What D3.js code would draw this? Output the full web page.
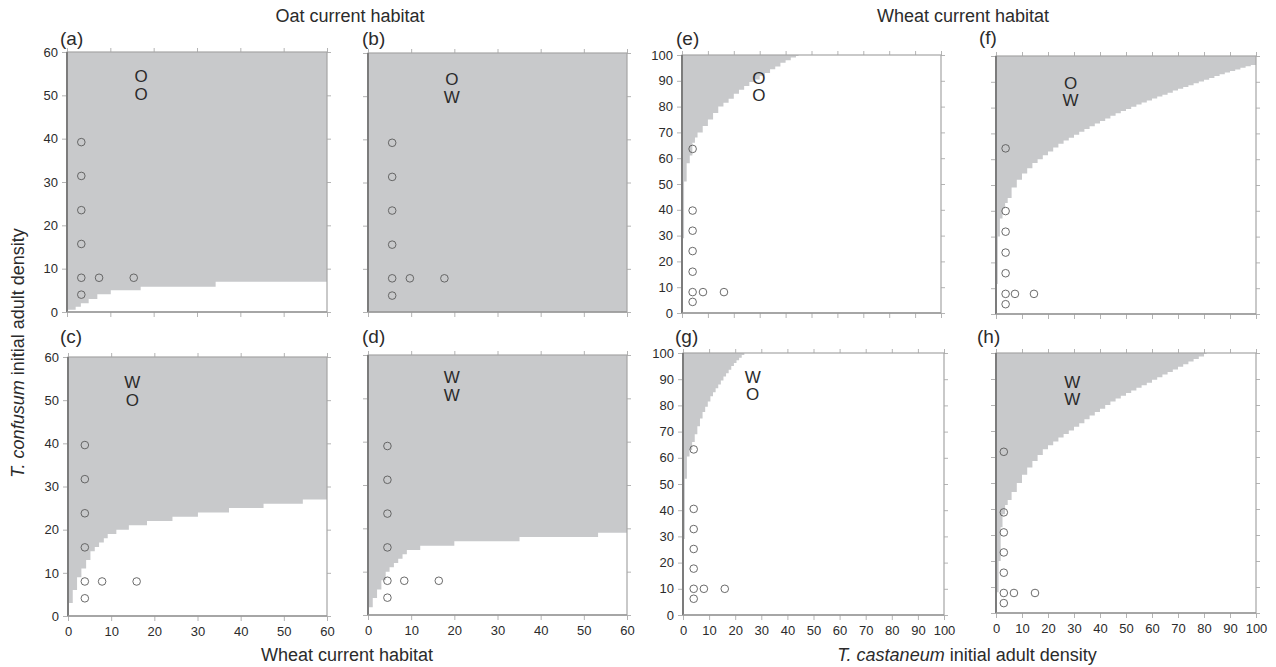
<!DOCTYPE html>
<html>
<head>
<meta charset="utf-8">
<script src="https://cdn.jsdelivr.net/npm/d3@7"></script>
<style>
  html, body { margin: 0; padding: 0; background: #fff; }
  svg { display: block; font-family: "Liberation Sans", Arial, sans-serif; }
</style>
</head>
<body>
<svg id="chart" width="1276" height="667"></svg>
<script>
// ---------------- data ----------------
const ticks60 = [0, 10, 20, 30, 40, 50, 60];
const ticks100 = [0, 10, 20, 30, 40, 50, 60, 70, 80, 90, 100];
const panelNames = ["(a)", "(b)", "(c)", "(d)", "(e)", "(f)", "(g)", "(h)"];

// step boundary of the grey region: [x, y] — grey above y from x until next x
const boundary_a = [[0,0.5],[2,1.2],[3.2,2],[5,3],[7,4.1],[10.1,5],[17,5.8],[34.3,7],[60,7]];
const boundary_b = [[0,0],[60,0]];
const boundary_c = [[0,3],[1.1,6],[2.1,9],[3.1,11],[4.2,13],[5.2,15],[6.2,16],[7.2,17],[8.3,18],[9.2,19],[11.2,20],[14.1,21],[18.3,22],[24.2,23],[30.1,24],[37.3,25],[45.3,26],[54.4,27],[60,27]];
const boundary_d = [[0,1.8],[1.1,3.9],[2.1,5.9],[3.1,8],[4.1,10],[5,11],[6,12],[7,13],[8,14],[9,15],[12.1,16],[20,17],[35.1,18],[53.3,19],[60,19]];
const boundary_e = [[0,29],[0.8,51],[1.8,58],[3,61],[4,66],[5,68],[6,70],[8,72.5],[10,75],[12,77.5],[14,80],[16,81.5],[18,83],[20,85],[22,86.5],[24,88],[26,89.5],[28,90.5],[30,92],[32,93],[34,94.5],[36,95.5],[38,97],[40,98],[42,99],[44,99.6],[45,100]];
const boundary_f = [[0,11.6],[0.7,30],[1.5,37],[2.5,41],[3.5,43],[4.5,45],[6,49],[8,52],[10,54.5],[12,56.5],[14,58.5],[16,60],[18,61.5],[20,63],[22,64.5],[24,66],[26,67.2],[28,68.3],[30,69.5],[32,70.6],[34,71.7],[36,72.8],[38,73.8],[40,74.8],[42,75.8],[44,76.8],[46,77.8],[48,78.7],[50,79.5],[52,80.3],[54,81.2],[56,82],[58,82.8],[60,83.5],[62,84.3],[64,85],[66,85.8],[68,86.6],[70,87.3],[72,88],[74,88.7],[76,89.4],[78,90.1],[80,90.8],[82,91.5],[84,92.2],[86,92.9],[88,93.6],[90,94.2],[92,94.8],[94,95.4],[96,96],[98,96.5],[100,97]];
const boundary_g = [[0,29],[0.7,52],[1.5,60.5],[2.5,63],[3.5,66],[4.5,69],[5.5,72],[6.5,75],[7.5,77.5],[8.5,79.5],[9.5,81.5],[10.5,83.5],[11.5,85],[12.5,86.5],[13.5,88],[14.5,89.5],[15.5,91],[16.5,92.3],[17.5,93.6],[18.5,95],[19.5,96.2],[20.5,97.2],[21.5,98.2],[22.5,99.2],[23.5,100]];
const boundary_h = [[0,8],[1,20],[1.8,33],[2.5,38],[3.5,41.5],[4.5,43.5],[6,46.5],[8,50],[10,53.2],[12,56],[14,58.5],[16,60.8],[18,63],[20,64.5],[22,66],[24,67.5],[26,68.8],[28,70.2],[30,71.6],[32,73],[34,74.5],[36,76],[38,77.3],[40,78.6],[42,80],[44,81.3],[46,82.5],[48,83.6],[50,84.6],[52,85.6],[54,86.6],[56,87.6],[58,88.6],[60,89.7],[62,90.7],[64,91.7],[66,92.7],[68,93.7],[70,94.7],[72,95.7],[74,96.7],[76,97.7],[78,98.7],[80,99.6],[81,100]];

// experimental points (open circles)
const points_a = [[3.3,39.2],[3.3,31.4],[3.3,23.5],[3.3,15.7],[3.3,7.9],[3.3,4],[7.4,7.9],[15.4,7.9]];
const points_b = [[5.6,39.2],[5.6,31.3],[5.6,23.5],[5.6,15.6],[5.6,7.8],[5.6,3.8],[9.7,7.8],[17.7,7.8]];
const points_c = [[3.9,39.6],[3.9,31.7],[3.9,23.8],[3.9,15.9],[3.9,8],[3.9,4.1],[7.9,8],[15.9,8]];
const points_d = [[4.5,39],[4.5,31.2],[4.5,23.4],[4.5,15.6],[4.5,7.9],[4.5,4],[8.4,7.9],[16.4,7.9]];
const points_e = [[4.1,63.6],[4.1,39.7],[4.1,31.9],[4.1,24],[4.1,16],[4.1,8.1],[4.1,4.3],[8.1,8.1],[16.2,8.1]];
const points_f = [[3.7,64.2],[3.7,39.9],[3.7,31.9],[3.7,23.8],[3.7,15.8],[3.7,7.8],[3.7,3.8],[7.3,7.8],[14.6,7.8]];
const points_g = [[4.1,63.2],[4.1,40.5],[4.1,32.8],[4.1,25.2],[4.1,17.7],[4.1,10],[4.1,6.2],[8,10],[16,10]];
const points_h = [[3,62],[3,38.7],[3,31],[3,23.3],[3,15.5],[3,7.7],[3,3.8],[6.9,7.7],[15,7.7]];

// habitat letters [x, y, text]
const letters_a = [[17.1,54.5,"O"],[17.1,50.4,"O"]];
const letters_b = [[19.4,54,"O"],[19.4,49.9,"W"]];
const letters_c = [[14.9,54.3,"W"],[14.9,50,"O"]];
const letters_d = [[19.4,55,"W"],[19.4,50.7,"W"]];
const letters_e = [[29.7,91.3,"O"],[29.7,84.5,"O"]];
const letters_f = [[28.7,89.6,"O"],[28.7,83,"W"]];
const letters_g = [[26.7,91,"W"],[26.7,84.4,"O"]];
const letters_h = [[29.3,89,"W"],[29.3,82.2,"W"]];

// ---------------- layout ----------------
const panels = [
  {x:67,  y:52,  w:260, h:260, max:60,  ticks:ticks60,  b:boundary_a, p:points_a, l:letters_a, yLab:true,  xLab:false, lx:60,  ly:45},
  {x:368, y:53,  w:259, h:259, max:60,  ticks:ticks60,  b:boundary_b, p:points_b, l:letters_b, yLab:false, xLab:false, lx:362, ly:45},
  {x:68,  y:357, w:259, h:259, max:60,  ticks:ticks60,  b:boundary_c, p:points_c, l:letters_c, yLab:true,  xLab:true,  lx:60,  ly:343},
  {x:368, y:355, w:259, h:260, max:60,  ticks:ticks60,  b:boundary_d, p:points_d, l:letters_d, yLab:false, xLab:true,  lx:362, ly:343},
  {x:682, y:55,  w:259, h:258, max:100, ticks:ticks100, b:boundary_e, p:points_e, l:letters_e, yLab:true,  xLab:false, lx:676, ly:45},
  {x:996, y:56,  w:260, h:258, max:100, ticks:ticks100, b:boundary_f, p:points_f, l:letters_f, yLab:false, xLab:false, lx:979, ly:44},
  {x:683, y:353, w:261, h:262, max:100, ticks:ticks100, b:boundary_g, p:points_g, l:letters_g, yLab:true,  xLab:true,  lx:675, ly:343},
  {x:996, y:353, w:260, h:260, max:100, ticks:ticks100, b:boundary_h, p:points_h, l:letters_h, yLab:false, xLab:true,  lx:977, ly:343}
];

const svg = d3.select("#chart");
const FILL = "#c8c9cb";
const TICK = "#b4b4b4";
const TXT = "#2b2b2b";

panels.forEach((P, i) => {
  const xS = d3.scaleLinear().domain([0, P.max]).range([P.x, P.x + P.w]);
  const yS = d3.scaleLinear().domain([0, P.max]).range([P.y + P.h, P.y]);
  const g = svg.append("g");

  const clipId = "clip" + i;
  g.append("clipPath").attr("id", clipId).append("rect")
    .attr("x", P.x).attr("y", P.y).attr("width", P.w).attr("height", P.h);

  // grey region
  const area = d3.area()
    .x(d => xS(d[0]))
    .y0(yS(P.max))
    .y1(d => yS(d[1]))
    .curve(d3.curveStepAfter);
  g.append("path").datum(P.b)
    .attr("clip-path", `url(#${clipId})`)
    .attr("d", area)
    .attr("fill", FILL)
    .attr("stroke", "none");

  // axes
  const fmt = d3.format("d");
  const axes = [
    {a: d3.axisLeft(yS).tickValues(P.ticks).tickSize(5).tickPadding(4).tickFormat(P.yLab ? fmt : ""), t: `translate(${P.x},0)`},
    {a: d3.axisBottom(xS).tickValues(P.ticks).tickSize(5).tickPadding(6).tickFormat(P.xLab ? fmt : ""), t: `translate(0,${P.y + P.h})`},
    {a: d3.axisTop(xS).tickValues(P.ticks).tickSize(4).tickFormat(""), t: `translate(0,${P.y})`},
    {a: d3.axisRight(yS).tickValues(P.ticks).tickSize(4).tickFormat(""), t: `translate(${P.x + P.w},0)`}
  ];
  axes.forEach(A => {
    const ag = g.append("g").attr("transform", A.t).call(A.a);
    ag.select(".domain").remove();
    ag.selectAll(".tick line").attr("stroke", TICK).attr("stroke-width", 1);
    ag.selectAll(".tick text").attr("fill", TXT).attr("font-size", 13)
      .attr("font-family", "'Liberation Sans', Arial, sans-serif");
  });

  // frame
  g.append("rect").attr("x", P.x).attr("y", P.y).attr("width", P.w).attr("height", P.h)
    .attr("fill", "none").attr("stroke", "#a6a6a6").attr("stroke-width", 1.2);
  g.append("line").attr("x1", P.x).attr("x2", P.x).attr("y1", P.y).attr("y2", P.y + P.h)
    .attr("stroke", "#7c7c7c").attr("stroke-width", 2);
  g.append("line").attr("x1", P.x).attr("x2", P.x + P.w).attr("y1", P.y + P.h).attr("y2", P.y + P.h)
    .attr("stroke", "#9a9a9a").attr("stroke-width", 1.4);

  // circles
  g.selectAll("circle.pt").data(P.p).enter().append("circle")
    .attr("class", "pt")
    .attr("cx", d => xS(d[0])).attr("cy", d => yS(d[1])).attr("r", 3.8)
    .attr("fill", "none").attr("stroke", "#5a5a5a").attr("stroke-width", 0.9);

  // letters
  g.selectAll("text.let").data(P.l).enter().append("text")
    .attr("class", "let")
    .attr("x", d => xS(d[0])).attr("y", d => yS(d[1]))
    .attr("dy", "0.36em")
    .attr("text-anchor", "middle")
    .attr("font-size", 17).attr("fill", TXT)
    .text(d => d[2]);

  // panel label
  g.append("text").attr("x", P.lx).attr("y", P.ly)
    .attr("font-size", 19).attr("fill", TXT).text(panelNames[i]);
});

// titles
svg.append("text").attr("x", 350).attr("y", 22).attr("text-anchor", "middle")
  .attr("font-size", 18).attr("fill", TXT).text("Oat current habitat");
svg.append("text").attr("x", 963).attr("y", 22).attr("text-anchor", "middle")
  .attr("font-size", 18).attr("fill", TXT).text("Wheat current habitat");
svg.append("text").attr("x", 347).attr("y", 661).attr("text-anchor", "middle")
  .attr("font-size", 18).attr("fill", TXT).text("Wheat current habitat");

const xl = svg.append("text").attr("x", 967).attr("y", 661).attr("text-anchor", "middle")
  .attr("font-size", 18).attr("fill", TXT);
xl.append("tspan").attr("font-style", "italic").text("T. castaneum");
xl.append("tspan").text(" initial adult density");

const yl = svg.append("text").attr("transform", "translate(24,353) rotate(-90)")
  .attr("text-anchor", "middle").attr("font-size", 18).attr("fill", TXT);
yl.append("tspan").attr("font-style", "italic").text("T. confusum");
yl.append("tspan").text(" initial adult density");
</script>
</body>
</html>
